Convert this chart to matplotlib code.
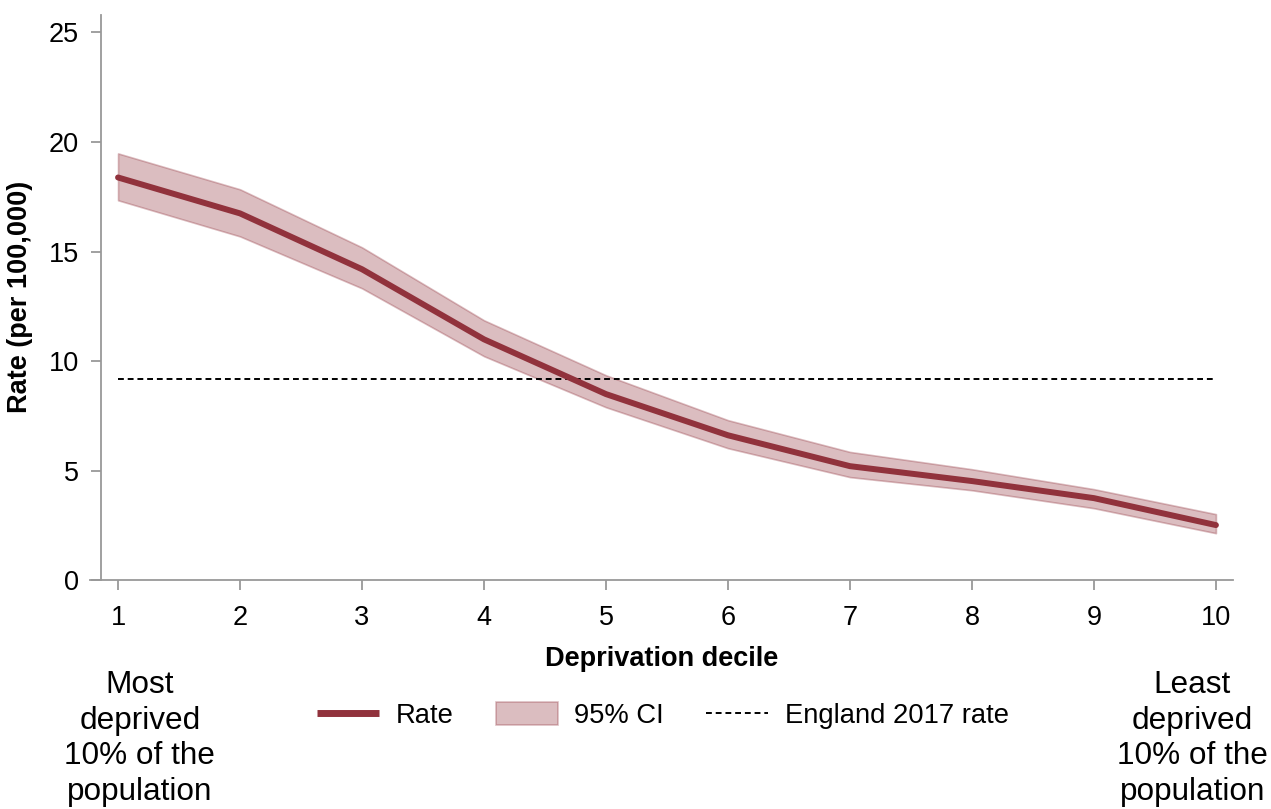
import matplotlib
matplotlib.use("Agg")
import matplotlib.pyplot as plt
from matplotlib.lines import Line2D

plt.rcParams['font.family'] = ['Liberation Sans', 'DejaVu Sans']

deciles = [1, 2, 3, 4, 5, 6, 7, 8, 9, 10]
rate = [18.38, 16.74, 14.19, 10.99, 8.49, 6.61, 5.20, 4.52, 3.74, 2.51]
ci_upper = [19.48, 17.84, 15.19, 11.86, 9.35, 7.30, 5.85, 5.06, 4.15, 3.01]
ci_lower = [17.34, 15.69, 13.32, 10.22, 7.89, 6.02, 4.70, 4.10, 3.28, 2.14]
england_rate = 9.2
yticks = [0, 5, 10, 15, 20, 25]

line_color = '#91323C'
spine_color = '#999999'

fig = plt.figure(figsize=(12.71, 8.09), dpi=100)
ax = fig.add_axes([0.0708, 0.283, 0.8993, 0.6985])

ci_band = ax.fill_between(deciles, ci_lower, ci_upper, facecolor=line_color, alpha=0.32,
                          edgecolor=line_color, linewidth=1.2)
ax.plot(deciles, rate, color=line_color, linewidth=4.3, solid_capstyle='round', zorder=3)
eng_line, = ax.plot([deciles[0], deciles[-1]], [england_rate, england_rate], color='black',
                    linestyle=(0, (3, 2)), linewidth=1.4)

ax.set_xlim(0.77, 10.14)
ax.set_ylim(0, 25.8)
ax.set_xticks(deciles)
ax.set_yticks(yticks)

for side in ['top', 'right']:
    ax.spines[side].set_visible(False)
for side in ['left', 'bottom']:
    ax.spines[side].set_color(spine_color)
    ax.spines[side].set_linewidth(1.3)
ax.spines['left'].set_position(('data', 0.861))

ax.tick_params(axis='both', colors=spine_color, length=7, width=1.3, labelsize=19.5,
               labelcolor='black')
ax.tick_params(axis='x', pad=11)
ax.tick_params(axis='y', pad=9)

ax.set_xlabel('Deprivation decile', fontsize=19.5, fontweight='bold', labelpad=11)
fig.text(0.016, 0.633, 'Rate (per 100,000)', rotation=90, fontsize=19.5,
         fontweight='bold', ha='center', va='center')

rate_handle = Line2D([], [], color=line_color, linewidth=5, solid_capstyle='butt')
fig.legend([rate_handle, ci_band, eng_line], ['Rate', '95% CI', 'England 2017 rate'],
           loc='center', bbox_to_anchor=(0.5216, 0.1155), ncol=3, frameon=False,
           fontsize=19.7, handlelength=2.26, handletextpad=0.62, columnspacing=1.53,
           handleheight=0.9, borderpad=0, borderaxespad=0)

fig.text(0.110, 0.087, 'Most\ndeprived\n10% of the\npopulation', fontsize=22.7,
         ha='center', va='center', linespacing=1.25)
fig.text(0.938, 0.087, 'Least\ndeprived\n10% of the\npopulation', fontsize=22.7,
         ha='center', va='center', linespacing=1.25)

fig.savefig('out.png', dpi=100)
